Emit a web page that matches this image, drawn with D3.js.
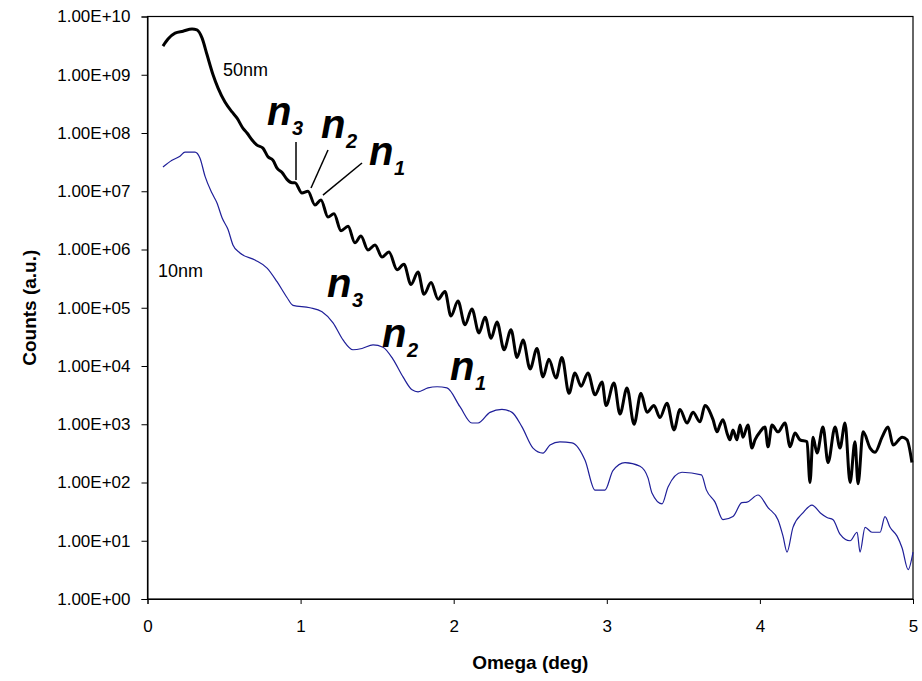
<!DOCTYPE html>
<html lang="en">
<head>
  <meta charset="UTF-8">
  <title>Counts vs Omega</title>
  <script src="https://d3js.org/d3.v7.min.js"></script>
  <style>
    body {
      margin: 0;
      background: #fff;
    }
    svg {
      display: block;
      font-family: "Liberation Sans", Arial, sans-serif;
    }
    .tick text {
      font-size: 17px;
      fill: #000;
    }
    .tick line, .domain {
      stroke: #000;
    }
    .axis-title {
      font-size: 19px;
      font-weight: bold;
    }
    .film {
      font-size: 18px;
    }
    .n-main {
      font-size: 40px;
      font-weight: bold;
      font-style: italic;
    }
    .n-sub {
      font-size: 20px;
      font-weight: bold;
      font-style: italic;
    }
  </style>
</head>
<body>
  <svg width="922" height="681"></svg>

  <script>
    // 50 nm film (black, thick)
    const omega50 = [0.101,0.134,0.180,0.232,0.291,0.323,0.356,0.389,0.428,0.461,
      0.506,0.552,0.585,0.624,0.650,0.683,0.715,0.754,0.787,0.820,
      0.846,0.879,0.911,0.944,0.963,1.009,1.048,1.094,1.133,1.179,
      1.218,1.264,1.310,1.355,1.394,1.440,1.486,1.532,1.577,1.630,
      1.675,1.721,1.767,1.806,1.852,1.898,1.943,1.982,2.028,2.074,
      2.119,2.165,2.205,2.244,2.283,2.329,2.374,2.414,2.453,2.499,
      2.544,2.583,2.622,2.668,2.707,2.753,2.792,2.832,2.877,2.923,
      2.969,2.995,3.047,3.086,3.132,3.178,3.223,3.263,3.308,3.347,
      3.393,3.439,3.478,3.524,3.563,3.609,3.641,3.694,3.720,3.739,
      3.759,3.785,3.804,3.824,3.850,3.870,3.889,3.922,3.948,3.968,
      4.001,4.033,4.053,4.079,4.118,4.164,4.197,4.229,4.262,4.308,
      4.327,4.347,4.373,4.412,4.445,4.491,4.523,4.556,4.589,4.621,
      4.641,4.674,4.720,4.752,4.798,4.837,4.870,4.929,4.961,4.993];
    const counts50 = [3.1e9,4.1e9,5.2e9,5.6e9,6.1e9,5.9e9,4.3e9,2.2e9,1.0e9,5.9e8,
      3.4e8,2.3e8,1.8e8,1.2e8,1.0e8,7.6e7,6.2e7,5.5e7,3.9e7,3.4e7,
      2.5e7,2.1e7,1.6e7,1.4e7,1.4e7,9.3e6,1.0e7,5.8e6,7.1e6,3.6e6,
      4.1e6,2.1e6,2.5e6,1.3e6,1.7e6,9.8e5,1.2e6,7.4e5,9.1e5,4.5e5,
      5.6e5,2.5e5,4.1e5,1.7e5,2.7e5,1.4e5,1.9e5,7.2e4,1.3e5,5.1e4,
      9.5e4,3.7e4,6.9e4,3.0e4,5.7e4,1.9e4,4.2e4,1.4e4,2.8e4,8.9e3,
      2.0e4,6.5e3,1.3e4,6.2e3,1.4e4,3.4e3,7.6e3,4.5e3,7.6e3,3.2e3,
      5.3e3,2.1e3,5.1e3,1.5e3,4.2e3,1.0e3,3.4e3,1.6e3,2.1e3,1.3e3,
      2.3e3,8.0e2,1.8e3,1.05e3,1.6e3,1.1e3,2.1e3,1.2e3,7.4e2,9.7e2,
      1.2e3,7.1e2,5.4e2,8.0e2,5.4e2,9.7e2,6.0e2,9.7e2,3.9e2,5.4e2,
      7.4e2,9.0e2,4.1e2,9.7e2,7.4e2,1.05e3,4.1e2,7.1e2,5.4e2,5.0e2,
      1.0e2,6.0e2,3.2e2,9.0e2,2.2e2,9.0e2,3.9e2,1.05e3,1.0e2,5.0e2,
      9.5e1,7.4e2,3.9e2,3.3e2,6.0e2,9.0e2,4.4e2,6.0e2,5.4e2,2.2e2];

    // 10 nm film (blue, thin)
    const omega10 = [0.101,0.160,0.212,0.245,0.310,0.343,0.376,0.421,0.454,0.487,
      0.526,0.558,0.604,0.702,0.781,0.846,0.911,0.950,1.061,1.140,
      1.212,1.277,1.342,1.401,1.473,1.538,1.604,1.669,1.728,1.767,
      1.832,1.891,1.956,2.041,2.119,2.159,2.237,2.315,2.381,2.446,
      2.518,2.583,2.629,2.694,2.773,2.858,2.923,2.988,3.040,3.119,
      3.217,3.269,3.295,3.361,3.400,3.491,3.618,3.651,3.707,3.759,
      3.824,3.882,3.916,3.988,4.053,4.118,4.151,4.177,4.216,4.281,
      4.340,4.395,4.438,4.478,4.523,4.589,4.635,4.654,4.687,4.732,
      4.785,4.817,4.850,4.896,4.929,4.968,5.000];
    const counts10 = [2.6e7,3.4e7,4.0e7,4.7e7,4.7e7,3.7e7,1.8e7,9.3e6,6.3e6,3.5e6,
      2.2e6,1.2e6,8.7e5,6.6e5,4.8e5,2.8e5,1.5e5,1.1e5,1.0e5,8.5e4,
      5.5e4,2.8e4,1.9e4,2.0e4,2.3e4,2.1e4,1.3e4,6.5e3,3.9e3,3.6e3,
      4.2e3,4.4e3,4.2e3,2.0e3,1.05e3,1.05e3,1.6e3,1.8e3,1.6e3,9.0e2,
      3.9e2,3.2e2,4.4e2,5.0e2,4.8e2,2.4e2,7.4e1,7.4e1,1.6e2,2.2e2,
      1.9e2,1.2e2,6.6e1,4.3e1,8.4e1,1.5e2,1.35e2,7.4e1,4.6e1,2.3e1,
      2.6e1,4.5e1,4.6e1,6.1e1,3.7e1,2.3e1,1.2e1,6.4,1.7e1,3.0e1,
      4.1e1,3.0e1,2.5e1,2.3e1,1.3e1,1.0e1,1.4e1,6.4,1.7e1,1.4e1,
      1.4e1,2.6e1,1.7e1,1.2e1,7.5,3.2,6.4];

    const xTicks = [0, 1, 2, 3, 4, 5];
    const yTicks = [1e0, 1e1, 1e2, 1e3, 1e4, 1e5, 1e6, 1e7, 1e8, 1e9, 1e10];
    const yTickLabels = ["1.00E+00","1.00E+01","1.00E+02","1.00E+03","1.00E+04","1.00E+05",
      "1.00E+06","1.00E+07","1.00E+08","1.00E+09","1.00E+10"];

    // film labels and fringe order labels, anchored in data units
    const filmLabels = [
      { text: "50nm", omega: 0.493, counts: 9.5e8 },
      { text: "10nm", omega: 0.069, counts: 3.4e5 }
    ];
    const fringeLabels = [
      { sub: "3", omega: 0.781, counts: 1.37e8 },
      { sub: "2", omega: 1.133, counts: 8.2e7 },
      { sub: "1", omega: 1.447, counts: 2.8e7 },
      { sub: "3", omega: 1.172, counts: 1.53e5 },
      { sub: "2", omega: 1.532, counts: 2.12e4 },
      { sub: "1", omega: 1.976, counts: 5.75e3 }
    ];
    const leaders = [
      { o1: 0.970, c1: 7.0e7, o2: 0.970, c2: 1.56e7 },
      { o1: 1.179, c1: 5.1e7, o2: 1.068, c2: 1.14e7 },
      { o1: 1.401, c1: 3.06e7, o2: 1.146, c2: 8.6e6 }
    ];

    const svg = d3.select("svg");
    const margin = {top: 16.5, right: 9, bottom: 82, left: 147.5},
          width = +svg.attr("width") - margin.left - margin.right,
          height = +svg.attr("height") - margin.top - margin.bottom;

    const g = svg.append("g").attr("transform", `translate(${margin.left},${margin.top})`);
    const x = d3.scaleLinear().domain([0, 5]).range([0, width]);
    const y = d3.scaleLog().domain([1, 1e10]).range([height, 0]);

    g.append("g")
      .attr("transform", `translate(0,${height})`)
      .call(d3.axisBottom(x).tickValues(xTicks).tickSize(5).tickPadding(16).tickFormat(d3.format("d")));

    g.append("g")
      .call(d3.axisLeft(y).tickValues(yTicks).tickSize(6).tickPadding(11)
        .tickFormat((d, i) => yTickLabels[i]));

    g.append("rect")
      .attr("width", width)
      .attr("height", height)
      .attr("fill", "none")
      .attr("stroke", "#000")
      .attr("stroke-width", 1.2);

    const line = d3.line()
      .curve(d3.curveMonotoneX)
      .x(d => x(d[0]))
      .y(d => y(d[1]));

    g.append("path")
      .datum(d3.zip(omega10, counts10))
      .attr("fill", "none")
      .attr("stroke", "#1f1f99")
      .attr("stroke-width", 1.2)
      .attr("stroke-linejoin", "round")
      .attr("d", line);

    g.append("path")
      .datum(d3.zip(omega50, counts50))
      .attr("fill", "none")
      .attr("stroke", "#000")
      .attr("stroke-width", 3)
      .attr("stroke-linejoin", "round")
      .attr("d", line);

    g.selectAll(".leader")
      .data(leaders)
      .enter()
      .append("line")
      .attr("class", "leader")
      .attr("x1", d => x(d.o1)).attr("y1", d => y(d.c1))
      .attr("x2", d => x(d.o2)).attr("y2", d => y(d.c2))
      .attr("stroke", "#000")
      .attr("stroke-width", 1.5);

    g.selectAll(".film")
      .data(filmLabels)
      .enter()
      .append("text")
      .attr("class", "film")
      .attr("x", d => x(d.omega))
      .attr("y", d => y(d.counts))
      .text(d => d.text);

    const fl = g.selectAll(".fringe")
      .data(fringeLabels)
      .enter()
      .append("g")
      .attr("class", "fringe")
      .attr("transform", d => `translate(${x(d.omega)},${y(d.counts)})`);
    fl.append("text").attr("class", "n-main").text("n");
    fl.append("text").attr("class", "n-sub").attr("x", 25).attr("y", 10).text(d => d.sub);

    svg.append("text")
      .attr("class", "axis-title")
      .attr("text-anchor", "middle")
      .attr("x", margin.left + width / 2)
      .attr("y", 669)
      .text("Omega (deg)");

    svg.append("text")
      .attr("class", "axis-title")
      .attr("text-anchor", "middle")
      .attr("transform", `translate(36,${margin.top + height / 2}) rotate(-90)`)
      .text("Counts (a.u.)");
  </script>
</body>
</html>
